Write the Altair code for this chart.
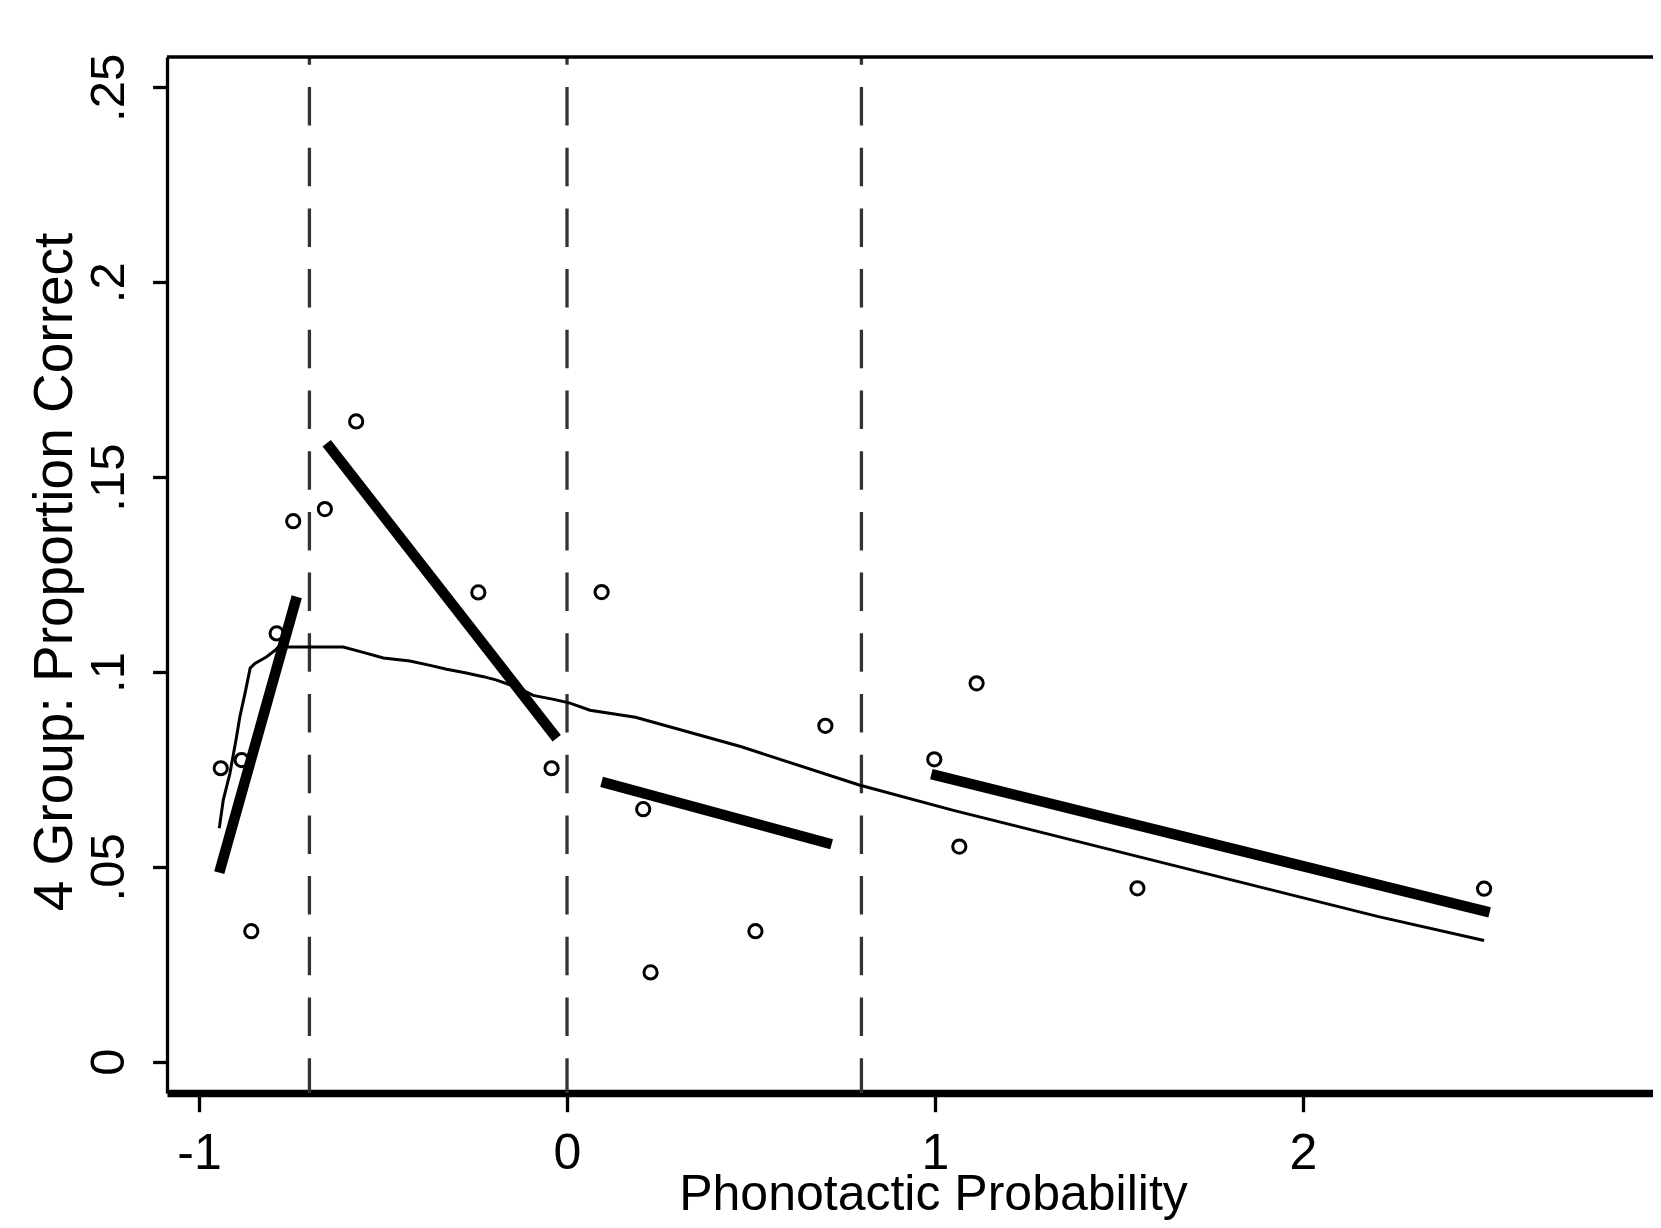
import altair as alt
import pandas as pd

# ---- data ----
pt_x = [-0.941, -0.884, -0.858, -0.789, -0.744, -0.658, -0.573, -0.241, -0.042, 0.094,
        0.207, 0.227, 0.512, 0.702, 0.998, 1.113, 1.066, 1.550, 2.492]
pt_y = [0.0753, 0.0774, 0.0335, 0.1099, 0.1387, 0.1418, 0.1643, 0.1204, 0.0753, 0.1205,
        0.0648, 0.0229, 0.0335, 0.0862, 0.0776, 0.0971, 0.0552, 0.0445, 0.0444]

seg_id = ["a", "a", "b", "b", "c", "c", "d", "d"]
seg_x = [-0.945, -0.7345, -0.653, -0.028, 0.094, 0.719, 0.990, 2.507]
seg_y = [0.0485, 0.1193, 0.1587, 0.0830, 0.0718, 0.0558, 0.0738, 0.0383]

smooth_x = [-0.945, -0.934, -0.925, -0.916, -0.898, -0.889, -0.875, -0.861, -0.848, -0.816,
            -0.793, -0.780, -0.762, -0.700, -0.608, -0.549, -0.499, -0.427, -0.372, -0.327,
            -0.277, -0.227, -0.191, -0.137, -0.092, -0.033, 0.008, 0.0625, 0.186, 0.474,
            0.794, 1.050, 1.338, 1.626, 1.914, 2.202, 2.492]
smooth_y = [0.0599, 0.0672, 0.0706, 0.0740, 0.0834, 0.0885, 0.0945, 0.1010, 0.1022, 0.1039,
            0.1056, 0.1069, 0.1064, 0.1064, 0.1064, 0.1049, 0.1036, 0.1028, 0.1017, 0.1007,
            0.0998, 0.0988, 0.0979, 0.0961, 0.0940, 0.0929, 0.0920, 0.0902, 0.0884, 0.0808,
            0.0710, 0.0645, 0.0577, 0.0509, 0.0441, 0.0373, 0.0311]

cut_x = [-0.7, 0.0, 0.8]
x_ticks = [-1, 0, 1, 2]
y_ticks = [0, 0.05, 0.10, 0.15, 0.20, 0.25]
x_title = "Phonotactic Probability"
y_title = "4 Group: Proportion Correct"

# ---- layout ----
W, H = 1486, 1036
FONT = "Liberation Sans"

pts = pd.DataFrame({"x": pt_x, "y": pt_y})
segs = pd.DataFrame({"seg": seg_id, "x": seg_x, "y": seg_y})
smooth = pd.DataFrame({"x": smooth_x, "y": smooth_y})
cuts = pd.DataFrame({"x": cut_x})
one = pd.DataFrame({"k": [0]})

x_enc = alt.X(
    "x:Q",
    scale=alt.Scale(domain=[-1.087, 2.951], nice=False, zero=False),
    axis=alt.Axis(
        values=x_ticks, labelExpr="datum.value + ''", title=x_title, grid=False,
        domainColor="black", domainWidth=7.3, tickColor="black", tickWidth=3.3, tickSize=18.7,
        labelFont=FONT, labelFontSize=50, labelColor="black", labelPadding=17,
        labelBaseline="top", labelAlign="center", labelFlush=False, labelOverlap=False,
        titleFont=FONT, titleFontSize=50, titleFontWeight="normal", titleColor="black",
        titleX=766, titleY=116, titleAlign="center", titleBaseline="alphabetic",
    ),
)
y_enc = alt.Y(
    "y:Q",
    scale=alt.Scale(domain=[-0.00803, 0.2578], nice=False, zero=False),
    axis=alt.Axis(
        values=y_ticks,
        labelExpr="datum.value == 0 ? '0' : slice(format(datum.value, '.2~f'), 1)",
        title=y_title, grid=False,
        domainColor="black", domainWidth=3.3, tickColor="black", tickWidth=3.3, tickSize=14.4,
        labelFont=FONT, labelFontSize=49, labelColor="black", labelPadding=28.9,
        labelAngle=270, labelAlign="center", labelBaseline="alphabetic",
        labelFlush=False, labelOverlap=False,
        titleFont=FONT, titleFontSize=55, titleFontWeight="normal", titleColor="black",
        titleAngle=270, titleX=-95.6, titleY=514.5, titleAlign="center",
        titleBaseline="alphabetic",
    ),
)

dashed = alt.Chart(cuts).mark_rule(
    color="#333333", strokeWidth=3.3, strokeDash=[38.5, 22.2], strokeDashOffset=30.7
).encode(x=x_enc, y=alt.value(0), y2=alt.value(H))

frame_top = alt.Chart(one).mark_rule(color="black", strokeWidth=3.3).encode(
    x=alt.value(0), x2=alt.value(W), y=alt.value(0)
)

points = alt.Chart(pts).mark_point(
    shape="circle", filled=False, size=175, strokeWidth=3, color="black", opacity=1
).encode(x=x_enc, y=y_enc)

thin = alt.Chart(smooth).mark_line(color="black", strokeWidth=3).encode(x=x_enc, y=y_enc)

thick = alt.Chart(segs).mark_line(color="black", strokeWidth=10.5, strokeCap="butt").encode(
    x=x_enc, y=y_enc, detail="seg:N"
)

chart = alt.layer(dashed, frame_top, points, thin, thick).properties(
    width=W, height=H,
    autosize=alt.AutoSizeParams(type="none"),
    padding={"left": 159, "top": 49, "right": 0, "bottom": 127},
    background="white",
).configure_view(strokeWidth=0)

chart.save("out.html", embed_options={"renderer": "svg", "actions": False})
